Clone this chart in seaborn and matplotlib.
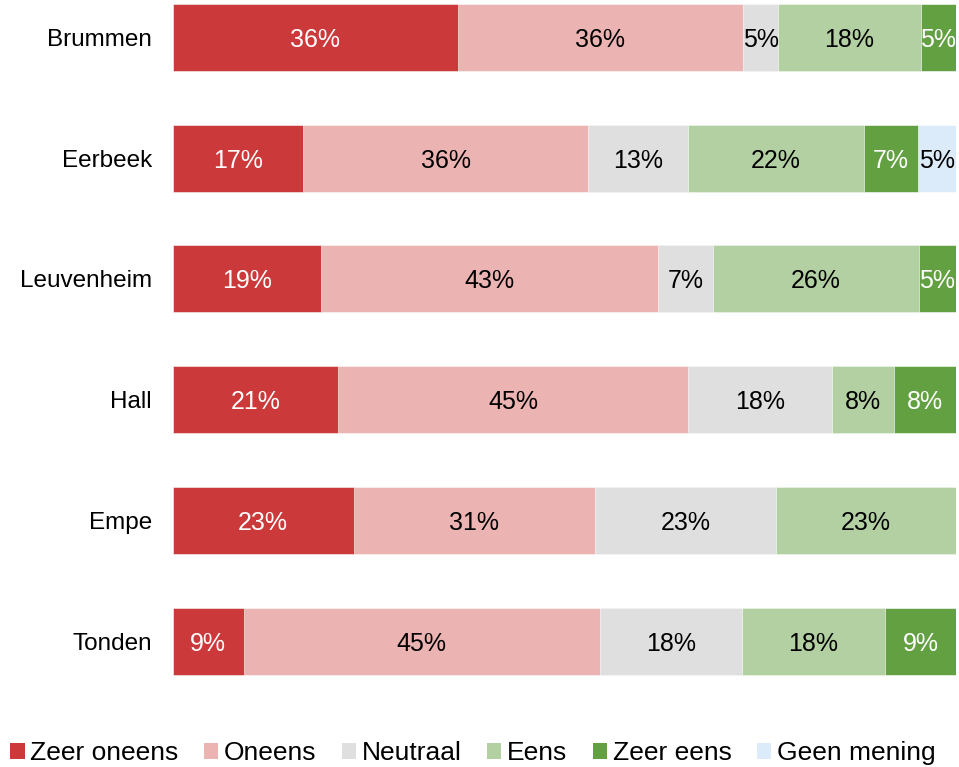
import numpy as np
import pandas as pd
import seaborn as sns
import matplotlib.pyplot as plt
from matplotlib.patches import Patch

locations = ["Brummen", "Eerbeek", "Leuvenheim", "Hall", "Empe", "Tonden"]
categories = ["Zeer oneens", "Oneens", "Neutraal", "Eens", "Zeer eens", "Geen mening"]

# percentages per location
zeer_oneens = [36.4, 16.7, 19.0, 21.1, 23.1, 9.1]
oneens = [36.4, 36.3, 42.9, 44.7, 30.8, 45.4]
neutraal = [4.5, 12.8, 7.1, 18.4, 23.1, 18.2]
eens = [18.2, 22.4, 26.2, 7.9, 23.0, 18.2]
zeer_eens = [4.5, 6.9, 4.8, 7.9, 0.0, 9.1]
geen_mening = [0.0, 4.9, 0.0, 0.0, 0.0, 0.0]

colors = ["#CB393A", "#EBB3B1", "#DEDFDE", "#B2D0A2", "#63A042", "#DCEBFA"]
text_colors = ["white", "black", "black", "black", "white", "black"]

df = pd.DataFrame({
    "location": locations,
    "Zeer oneens": zeer_oneens,
    "Oneens": oneens,
    "Neutraal": neutraal,
    "Eens": eens,
    "Zeer eens": zeer_eens,
    "Geen mening": geen_mening,
})
cum = df[categories].cumsum(axis=1)

sns.set_style("white")
plt.rcParams["font.family"] = ["Liberation Sans", "DejaVu Sans"]

fig = plt.figure(figsize=(9.59, 7.67), dpi=100)
ax = fig.add_axes([0.180, 0.0855, 0.817, 0.9145])

# draw cumulative totals from the last category back, so each bar overlays the next
for cat, col in reversed(list(zip(categories, colors))):
    sns.barplot(x=cum[cat], y=df["location"], color=col, orient="h",
                width=0.555, ax=ax, edgecolor="white", linewidth=0.4,
                saturation=1)

for i, loc in enumerate(locations):
    for cat, tc in zip(categories, text_colors):
        v = df.loc[i, cat]
        if v <= 0:
            continue
        xc = cum.loc[i, cat] - v / 2
        ax.text(xc, i, f"{int(v + 0.5)}%", ha="center", va="center_baseline",
                color=tc, fontsize=18)

ax.set_xlim(0, 100)
ax.set_ylim(5.5, -0.31)
ax.set_xlabel("")
ax.set_ylabel("")
ax.set_xticks([])
ax.tick_params(axis="y", length=0, pad=15, labelsize=17.5, labelcolor="black")
sns.despine(ax=ax, left=True, bottom=True)

handles = [Patch(facecolor=c, edgecolor="none") for c in colors]
leg = fig.legend(handles, categories, loc="lower left", bbox_to_anchor=(-0.006, -0.018),
                 ncol=6, frameon=False, fontsize=19, handlelength=0.55,
                 handleheight=0.55, handletextpad=0.22, columnspacing=0.95,
                 borderaxespad=0.2)
for t in leg.get_texts():
    t.set_color("black")

fig.savefig("out.png", dpi=100)
